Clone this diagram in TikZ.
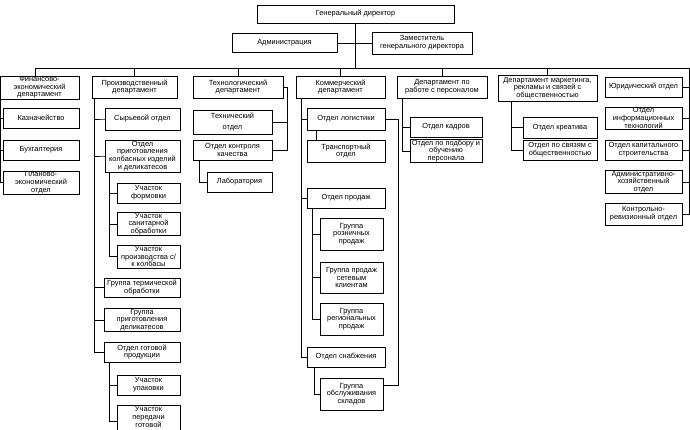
\documentclass[tikz,border=0pt]{standalone}
\usepackage{fontspec}
\setmainfont{Liberation Sans}
\usetikzlibrary{positioning}

\tikzset{
  box/.style 2 args={draw, line width=0.6pt, inner sep=0.5pt, align=center,
    font=\fontsize{7.4}{7.7}\selectfont, minimum width=#1, minimum height=#2},
  link/.style={line width=0.6pt}
}

\begin{document}
\begin{tikzpicture}[x=1pt,y=-1pt]
		\useasboundingbox (0,0) rectangle (690,430);
		\node[box={197pt}{18pt}] (dir) at (355.5,14) {Генеральный директор};
		\node[box={105pt}{19pt}] (adm) at (284.5,43) {Администрация};
		\node[box={100pt}{22pt}] (zam) at (422,43) {Заместитель\\генерального директора};

		\node[box={79pt}{23pt}] (fin) at (39.5,87.5) {Финансово-\\экономический\\департамент};
		\node[box={85pt}{22pt}] (prod) at (134.5,87) {Производственный\\департамент};
		\node[box={90pt}{22pt}] (tech) at (238,87) {Технологический\\департамент};
		\node[box={89pt}{22pt}] (kom) at (340.5,87) {Коммерческий\\департамент};
		\node[box={90pt}{22pt}] (pers) at (442,87) {Департамент по\\работе с персоналом};
		\node[box={99pt}{26pt}] (mark) at (547.5,88) {Департамент маркетинга,\\рекламы и связей с\\общественностью};
		\node[box={77pt}{20pt}] (jur) at (643.5,87) {Юридический отдел};

		\node[box={76pt}{20pt}] (kazn) at (41,118) {Казначейство};
		\node[box={76pt}{20pt}] (buh) at (41,150) {Бухгалтерия};
		\node[box={76pt}{21pt}] (plan) at (41,182.5) {Планово-\\экономический\\отдел};

		\node[box={75pt}{22pt}] (syr) at (142.5,119) {Сырьевой отдел};
		\node[box={75pt}{32pt}] (prig) at (142.5,156) {Отдел\\приготовления\\колбасных изделий\\и деликатесов};
		\node[box={63pt}{20pt}] (form) at (148.5,193) {Участок\\формовки};
		\node[box={63pt}{22pt}] (sanit) at (148.5,224) {Участок\\санитарной\\обработки};
		\node[box={63pt}{23pt}] (kolb) at (148.5,256.5) {Участок\\производства с/\\к колбасы};
		\node[box={76pt}{19pt}] (term) at (142,287.5) {Группа термической\\обработки};
		\node[box={76pt}{20pt}] (deli) at (142,320) {Группа\\приготовления\\деликатесов};
		\node[box={76pt}{20pt}] (got) at (142,352) {Отдел готовой\\продукции};
		\node[box={63pt}{20pt}] (upak) at (148.5,385) {Участок\\упаковки};
		\node[box={63pt}{32pt}] (pered) at (148.5,421) {Участок\\передачи\\готовой\\\mbox{}};

		\node[box={79pt}{24pt}] (tekh) at (232.5,122) {Технический\\[4pt]отдел};
		\node[box={79pt}{20pt}] (kontr) at (232.5,150) {Отдел контроля\\качества};
		\node[box={65pt}{20pt}] (lab) at (239.5,182) {Лаборатория};

		\node[box={78pt}{22pt}] (logi) at (346,119) {Отдел логистики};
		\node[box={78pt}{22pt}] (trans) at (346,151) {Транспортный\\отдел};
		\node[box={78pt}{20pt}] (sale) at (346,198) {Отдел продаж};
		\node[box={63pt}{32pt}] (rozn) at (351.5,234) {Группа\\розничных\\продаж};
		\node[box={63pt}{31pt}] (setev) at (351.5,277.5) {Группа продаж\\сетевым\\клиентам};
		\node[box={63pt}{32pt}] (regio) at (351.5,319) {Группа\\региональных\\продаж};
		\node[box={78pt}{20pt}] (snab) at (346,357) {Отдел снабжения};
		\node[box={63pt}{32pt}] (sklad) at (351.5,394) {Группа\\обслуживания\\складов};

		\node[box={72pt}{20pt}] (kadr) at (446,127) {Отдел кадров};
		\node[box={72pt}{22pt}] (podb) at (446,151) {Отдел по подбору и\\обучению\\персонала};

		\node[box={74pt}{21pt}] (kreat) at (560,127.5) {Отдел креатива};
		\node[box={74pt}{20pt}] (svyaz) at (560,150) {Отдел по связям с\\общественностью};

		\node[box={77pt}{20pt}] (it) at (643.5,118) {Отдел\\информационных\\технологий};
		\node[box={77pt}{20pt}] (kap) at (643.5,150) {Отдел капитального\\строительства};
		\node[box={77pt}{20pt}] (ahs) at (643.5,182) {Административно-\\хозяйственный\\отдел};
		\node[box={77pt}{22pt}] (kro) at (643.5,214) {Контрольно-\\ревизионный отдел};

		\coordinate (busR) at (689,68);

		\draw[link] (dir.south) -- (dir.south |- busR);
		\draw[link] (adm.east) -- (zam.west);
		\draw[link] ([xshift=-4pt]fin.north) |- (busR) |- (kro.east);
		\foreach \d in {prod,tech,kom,pers,mark}
			\draw[link] (\d.north) -- (\d.north |- busR);
		\foreach \r in {jur,it,kap,ahs}
			\draw[link] (\r.east) -- (\r.east -| busR);

		\draw[link] ([xshift=1pt]fin.south west) |- (plan.west);
		\foreach \c in {kazn,buh}
			\draw[link] (\c.west) -- ++(-2,0);

		\draw[link] ([xshift=3pt]prod.south west) |- (got.west);
		\foreach \c in {syr,prig,term,deli}
			\draw[link] (\c.west) -- (\c.west -| got.west) -- ++(-9,0);
		\draw[link] ([xshift=5pt]prig.south west) |- (kolb.west);
		\draw[link] (form.west) -- ++(-7,0);
		\draw[link] (sanit.west) -- ++(-7,0);
		\draw[link] ([xshift=6pt]got.south west) |- (pered.west);
		\draw[link] (upak.west) -- ++(-7,0);

		\draw[link] (tech.east) -- ++(4,0) coordinate (techR) |- (kontr.east);
		\draw[link] (tekh.east) -- (tekh.east -| techR);
		\draw[link] ([xshift=7pt]kontr.south west) |- (lab.west);

		\draw[link] ([xshift=6pt]kom.south west) |- (snab.west);
		\draw[link] (logi.west) -- ++(-5,0);
		\draw[link] (sale.west) -- ++(-5,0);
		\draw[link] ([xshift=10pt]logi.south west) -- ([xshift=10pt]trans.north west);
		\draw[link] (logi.east) -- ++(13,0) |- ([yshift=9pt]sklad.east);
		\draw[link] ([xshift=6pt]sale.south west) |- (regio.west);
		\draw[link] (rozn.west) -- ++(-7,0);
		\draw[link] (setev.west) -- ++(-7,0);
		\draw[link] ([xshift=8pt]snab.south west) |- (sklad.west);

		\draw[link] ([xshift=6pt]pers.south west) |- (podb.west);
		\draw[link] (kadr.west) -- ++(-7,0);

		\draw[link] ([xshift=14pt]mark.south west) |- (svyaz.west);
		\draw[link] (kreat.west) -- ++(-11,0);
	\end{tikzpicture}
\end{document}
